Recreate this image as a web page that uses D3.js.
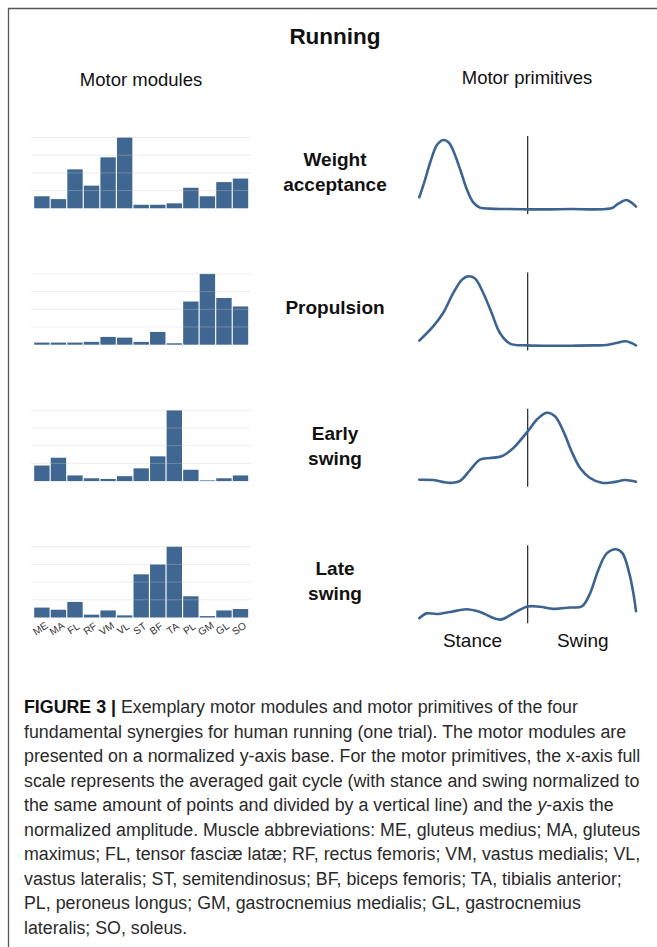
<!DOCTYPE html>
<html>
<head>
<meta charset="utf-8">
<script src="https://cdn.jsdelivr.net/npm/d3@7"></script>
<style>
  html, body { margin: 0; padding: 0; background: #fff; }
  svg { display: block; }
</style>
</head>
<body>
<svg id="fig" width="657" height="947"></svg>
<script>
// Muscles on the x axis of every motor-module bar chart
const muscles = ["ME", "MA", "FL", "RF", "VM", "VL", "ST", "BF", "TA", "PL", "GM", "GL", "SO"];

// Synergy names shown between the two columns
const synergyLabels = [["Weight", "acceptance"], ["Propulsion"], ["Early", "swing"], ["Late", "swing"]];

// Motor modules (normalized weights per muscle)
const moduleWeight   = [0.17, 0.13, 0.55, 0.32, 0.72, 1.00, 0.05, 0.05, 0.07, 0.29, 0.17, 0.37, 0.42];
const modulePropuls  = [0.03, 0.03, 0.03, 0.04, 0.11, 0.10, 0.04, 0.18, 0.02, 0.61, 1.00, 0.66, 0.54];
const moduleEarly    = [0.22, 0.33, 0.08, 0.04, 0.03, 0.07, 0.18, 0.35, 1.00, 0.16, 0.01, 0.04, 0.08];
const moduleLate     = [0.14, 0.11, 0.22, 0.04, 0.10, 0.03, 0.61, 0.75, 1.00, 0.30, 0.02, 0.10, 0.12];
const modules = [moduleWeight, modulePropuls, moduleEarly, moduleLate];

// Motor primitives: [% of gait cycle, normalized amplitude]; stance 0-50, swing 50-100
const primWeight = [[0,0.17],[2.6,0.42],[5.4,0.71],[8.2,0.93],[11.1,1.0],[13.7,0.96],[16.5,0.78],[19.2,0.54],[22,0.28],[24.8,0.10],[28,0.02],[32.6,0.005],[40,0.0],[50,-0.005],[60,-0.005],[70,0.0],[80,-0.005],[86,0.0],[89,0.015],[92,0.08],[95.5,0.13],[98,0.09],[100,0.035]];
const primPropuls = [[0,0.07],[6.5,0.28],[11,0.47],[15.7,0.76],[19.6,0.95],[22.3,1.0],[25.7,0.97],[29.5,0.76],[33.4,0.47],[37.2,0.18],[41.9,0.025],[50,0.0],[60,-0.005],[70,-0.005],[80,0.0],[86.5,0.005],[91,0.035],[95.4,0.06],[100,0.0]];
const primEarly = [[0,0.03],[6.5,0.025],[14.2,-0.015],[18.8,0.015],[23.4,0.17],[28,0.32],[32.6,0.345],[38,0.37],[43.4,0.49],[50,0.73],[54.2,0.9],[58.8,1.0],[62.6,0.95],[66.5,0.73],[70.3,0.44],[74.2,0.2],[78.8,0.055],[84.2,-0.015],[89.6,-0.005],[95,0.025],[100,0.0]];
const primLate = [[0,0.0],[3.4,0.07],[8,0.06],[14.2,0.09],[21.9,0.13],[28,0.09],[37.2,-0.02],[43.4,0.07],[50,0.17],[55.7,0.165],[61.8,0.135],[69.5,0.155],[75,0.17],[78.8,0.36],[82.6,0.7],[86.5,0.94],[90.8,1.0],[93.8,0.94],[96.9,0.65],[98.8,0.36],[100,0.1]];
const primitives = [primWeight, primPropuls, primEarly, primLate];

const phaseLabels = ["Stance", "Swing"];
const gridTicks = [0.25, 0.5, 0.75, 1.0];

const captionLines = [
  [["FIGURE 3 | ", "b"], ["Exemplary motor modules and motor primitives of the four", ""]],
  [["fundamental synergies for human running (one trial). The motor modules are", ""]],
  [["presented on a normalized y-axis base. For the motor primitives, the x-axis full", ""]],
  [["scale represents the averaged gait cycle (with stance and swing normalized to", ""]],
  [["the same amount of points and divided by a vertical line) and the ", ""], ["y", "i"], ["-axis the", ""]],
  [["normalized amplitude. Muscle abbreviations: ME, gluteus medius; MA, gluteus", ""]],
  [["maximus; FL, tensor fasciæ latæ; RF, rectus femoris; VM, vastus medialis; VL,", ""]],
  [["vastus lateralis; ST, semitendinosus; BF, biceps femoris; TA, tibialis anterior;", ""]],
  [["PL, peroneus longus; GM, gastrocnemius medialis; GL, gastrocnemius", ""]],
  [["lateralis; SO, soleus.", ""]]
];

const svg = d3.select("#fig");
const FONT = "'Liberation Sans', Arial, Helvetica, sans-serif";
const BAR = "#3f6791";
const LINE = "#3d6391";

// frame
svg.append("path")
  .attr("d", "M8.5,947 L8.5,8.5 L657,8.5")
  .attr("fill", "none").attr("stroke", "#555").attr("stroke-width", 1.3);

// headings
svg.append("text").attr("x", 335).attr("y", 44).attr("text-anchor", "middle")
  .attr("font-family", FONT).attr("font-weight", "bold").attr("font-size", 22.5).attr("fill", "#111")
  .text("Running");
svg.append("text").attr("x", 141).attr("y", 86).attr("text-anchor", "middle")
  .attr("font-family", FONT).attr("font-size", 18.5).attr("fill", "#111").text("Motor modules");
svg.append("text").attr("x", 527).attr("y", 84).attr("text-anchor", "middle")
  .attr("font-family", FONT).attr("font-size", 18.5).attr("fill", "#111").text("Motor primitives");

// shared scales
const xBand = d3.scaleBand().domain(muscles).range([33.7, 248.7]).paddingInner(0.07).paddingOuter(0.03);
const xCycle = d3.scaleLinear().domain([0, 100]).range([419.3, 636]);
const rowStep = 136.4;

modules.forEach((vals, r) => {
  const base = 208.3 + r * rowStep;
  const y = d3.scaleLinear().domain([0, 1]).range([base, base - 70.8]);
  const g = svg.append("g");

  g.selectAll("rect").data(vals).join("rect")
    .attr("x", (d, i) => xBand(muscles[i]))
    .attr("width", xBand.bandwidth())
    .attr("y", d => y(d))
    .attr("height", d => base - y(d))
    .attr("fill", BAR);

  // horizontal grid drawn over the bars
  g.selectAll("line.grid").data(gridTicks).join("line")
    .attr("class", "grid")
    .attr("x1", 31).attr("x2", 251)
    .attr("y1", d => y(d)).attr("y2", d => y(d))
    .attr("stroke", "rgb(200,200,200)").attr("stroke-opacity", 0.35).attr("stroke-width", 1);

  if (r === modules.length - 1) {
    g.selectAll("text.mus").data(muscles).join("text")
      .attr("class", "mus")
      .attr("text-anchor", "middle")
      .attr("font-family", FONT).attr("font-size", 10.2).attr("fill", "#333")
      .attr("transform", d => `translate(${xBand(d) + xBand.bandwidth() / 2 + 0.5},${base + 14}) rotate(-34)`)
      .text(d => d);
  }
});

// synergy names
const labelBase = [166, 314, 440, 575];
synergyLabels.forEach((lines, r) => {
  const t = svg.append("text").attr("text-anchor", "middle")
    .attr("font-family", FONT).attr("font-weight", "bold").attr("font-size", 19).attr("fill", "#111");
  lines.forEach((s, k) => {
    t.append("tspan").attr("x", 335).attr("y", labelBase[r] + k * 24.5).text(s);
  });
});

// primitives
primitives.forEach((pts, r) => {
  const top = 136 + r * rowStep;
  const y = d3.scaleLinear().domain([0, 1]).range([top + 73, top + 4]);
  svg.append("line")
    .attr("x1", xCycle(50)).attr("x2", xCycle(50))
    .attr("y1", top).attr("y2", top + 78)
    .attr("stroke", "#333").attr("stroke-width", 1.3);
  const line = d3.line().x(d => xCycle(d[0])).y(d => y(d[1])).curve(d3.curveCatmullRom.alpha(0.5));
  svg.append("path").attr("d", line(pts))
    .attr("fill", "none").attr("stroke", LINE).attr("stroke-width", 2.6)
    .attr("stroke-linejoin", "round").attr("stroke-linecap", "round");
});

// phase labels under the last primitive
[25, 75].forEach((p, i) => {
  svg.append("text").attr("x", xCycle(p) + (i === 0 ? -1 : 1)).attr("y", 647).attr("text-anchor", "middle")
    .attr("font-family", FONT).attr("font-size", 19).attr("fill", "#111").text(phaseLabels[i]);
});

// caption
const cap = svg.append("g");
const capTexts = captionLines.map((parts, k) => {
  const t = cap.append("text").attr("x", 24).attr("y", 713 + k * 24.5)
    .attr("font-family", FONT).attr("font-size", 16).attr("fill", "#2a2a2a");
  parts.forEach(([s, st]) => {
    const ts = t.append("tspan").text(s);
    if (st === "b") ts.attr("font-weight", "bold").attr("fill", "#111");
    if (st === "i") ts.attr("font-style", "italic");
  });
  return t;
});
// size caption so the widest full line spans the text block
const widest = d3.max(capTexts, t => t.node().getComputedTextLength());
const fs = 16 * 617 / widest;
capTexts.forEach(t => t.attr("font-size", fs));
</script>
</body>
</html>
